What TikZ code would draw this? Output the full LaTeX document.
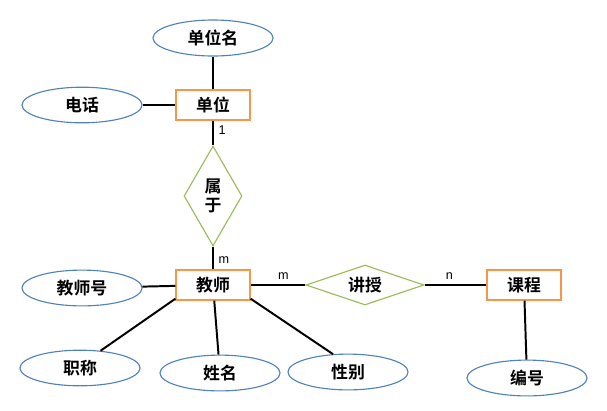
\documentclass[tikz,border=0pt]{standalone}
\usepackage{fontspec}
\setmainfont{Liberation Sans}
\newfontfamily\cjk{Noto Sans CJK SC Bold}
\usetikzlibrary{shapes.geometric}
\definecolor{entblue}{HTML}{4F81BD}
\definecolor{entorange}{HTML}{F79646}
\definecolor{entgreen}{HTML}{9BBB59}
\tikzset{
	attr/.style={ellipse, draw=entblue, thick, minimum width=3cm, minimum height=0.85cm, font=\cjk\large},
	ent/.style={rectangle, draw=entorange, thick, minimum width=1.85cm, minimum height=0.75cm, font=\cjk\large},
	rel/.style={diamond, draw=entgreen, thick, aspect=#1, inner sep=1pt, font=\cjk\large},
	link/.style={line width=1.4pt},
	card/.style={font=\small}
}
\begin{document}
\begin{tikzpicture}[x=0.025cm, y=-0.025cm]
	\useasboundingbox (0,0) rectangle (607,410);
	\node[attr] (unitname) at (213,38) {单位名};
	\node[attr] (phone) at (82,105) {电话};
	\node[ent] (unit) at (213,105) {单位};
	\node[rel=0.55, minimum width=1.45cm, minimum height=2.5cm] (belong) at (213,196) {\shortstack{属\\于}};
	\node[ent] (teacher) at (213,285) {教师};
	\node[attr] (tno) at (82,288) {教师号};
	\node[attr] (title) at (80,368) {职称};
	\node[attr] (tname) at (220,373) {姓名};
	\node[attr] (sex) at (348,372) {性别};
	\node[rel=2.9, minimum width=2.95cm, minimum height=1cm] (teach) at (365,285) {讲授};
	\node[ent] (course) at (524,285) {课程};
	\node[attr] (cno) at (527,378) {编号};
	\draw[link] (unitname) -- (unit);
	\draw[link] (phone) -- (unit);
	\draw[link] (unit) -- node[card, right, pos=0.4] {1} (belong);
	\draw[link] (belong) -- node[card, right, pos=0.6] {m} (teacher);
	\draw[link] (tno) -- (teacher);
	\draw[link] (teacher.200) -- (title.40);
	\draw[link] (teacher) -- (tname);
	\draw[link] (teacher.-20) -- (sex.130);
	\draw[link] (teacher) -- node[card, above, pos=0.6] {m} (teach);
	\draw[link] (teach) -- node[card, above, pos=0.4] {n} (course);
	\draw[link] (course) -- (cno);
\end{tikzpicture}
\end{document}
